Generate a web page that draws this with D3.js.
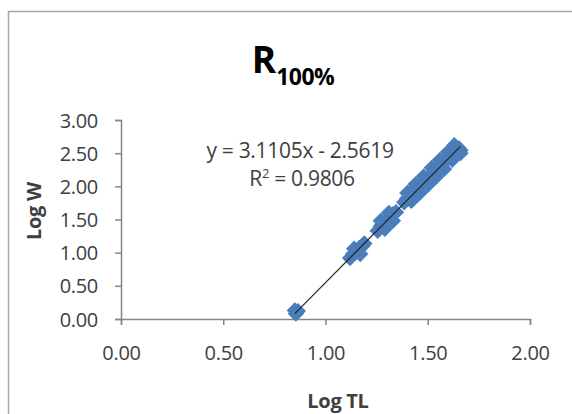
<!DOCTYPE html>
<html>
<head>
<meta charset="utf-8">
<script src="https://cdn.jsdelivr.net/npm/d3@7"></script>
<style>
  html, body { margin: 0; padding: 0; background: #fff; }
  svg { display: block; font-family: "Open Sans", "Noto Sans", sans-serif; }
</style>
</head>
<body>
<svg id="chart" width="572" height="414"></svg>
<script>
// Log total length vs log weight, R 100% group
const logTL = [0.855, 0.865, 0.85,
  1.12, 1.135, 1.15, 1.165, 1.18, 1.19, 1.14, 1.17,
  1.255, 1.27, 1.285, 1.30, 1.315, 1.33, 1.345, 1.27, 1.31, 1.29, 1.33,
  1.385, 1.40, 1.415, 1.43, 1.445, 1.46, 1.475, 1.49, 1.505, 1.52,
  1.535, 1.55, 1.565, 1.58, 1.595, 1.61, 1.625, 1.64, 1.653,
  1.44, 1.52, 1.60, 1.66, 1.62,
  1.40, 1.44, 1.48, 1.52, 1.56, 1.60, 1.63,
  1.42, 1.46, 1.50, 1.54, 1.58, 1.62, 1.66];
const logW = [0.08, 0.12, 0.13,
  0.92, 0.98, 1.01, 1.07, 1.10, 1.14, 1.06, 0.98,
  1.33, 1.40, 1.43, 1.49, 1.52, 1.58, 1.61, 1.48, 1.60, 1.36, 1.48,
  1.76, 1.82, 1.83, 1.91, 1.92, 2.00, 2.02, 2.09, 2.11, 2.18,
  2.20, 2.27, 2.30, 2.36, 2.41, 2.44, 2.50, 2.55, 2.57,
  1.99, 2.12, 2.44, 2.54, 2.55,
  1.90, 2.03, 2.15, 2.28, 2.40, 2.52, 2.62,
  1.78, 1.90, 2.02, 2.14, 2.26, 2.40, 2.50];
const xTicks = [0, 0.5, 1.0, 1.5, 2.0];
const yTicks = [0, 0.5, 1.0, 1.5, 2.0, 2.5, 3.0];
// Linear trendline coefficients and fit quality
const slope = 3.1105;
const intercept = -2.5619;
const rSquared = 0.9806;

const svg = d3.select("#chart");

// chart frame
svg.append("rect")
  .attr("x", 8.5).attr("y", 11.5)
  .attr("width", 620).attr("height", 500)
  .attr("fill", "none").attr("stroke", "#a6a6a6").attr("stroke-width", 1.5);

const x = d3.scaleLinear().domain([0, 2]).range([121, 530]);
const y = d3.scaleLinear().domain([0, 3]).range([319, 120]);

const axisColor = "#868686";
const labelColor = "#404040";

const xAxis = svg.append("g")
  .attr("transform", `translate(0,${y(0)})`)
  .call(d3.axisBottom(x).tickValues(xTicks).tickFormat(d3.format(".2f")).tickSizeOuter(0).tickSize(6).tickPadding(21));
const yAxis = svg.append("g")
  .attr("transform", `translate(${x(0)},0)`)
  .call(d3.axisLeft(y).tickValues(yTicks).tickFormat(d3.format(".2f")).tickSizeOuter(0).tickSize(6).tickPadding(17));

[xAxis, yAxis].forEach(g => {
  g.selectAll("path, line").attr("stroke", axisColor).attr("stroke-width", 1.5);
  g.selectAll("text").attr("fill", labelColor).style("font-size", "20px")
    .style("font-family", "'Open Sans', sans-serif").attr("letter-spacing", "-0.3");
});
yAxis.selectAll("text").attr("dy", "0.35em");

// clip region for the plot area
svg.append("clipPath").attr("id", "plot-clip")
  .append("rect").attr("x", x(0)).attr("y", y(3)).attr("width", x(2) - x(0)).attr("height", y(0) - y(3));

// diamond markers
const diamond = d3.symbol().type(d3.symbolDiamond2).size(170);
svg.append("g")
  .selectAll("path")
  .data(logTL.map((v, i) => [v, logW[i]]))
  .join("path")
  .attr("d", diamond)
  .attr("transform", d => `translate(${x(d[0])},${y(d[1])})`)
  .attr("fill", "#4a7ebb");

// trendline over the range of the data
const xMin = d3.min(logTL), xMax = d3.max(logTL);
svg.append("g").attr("clip-path", "url(#plot-clip)")
  .append("line")
  .attr("x1", x(xMin)).attr("y1", y(slope * xMin + intercept))
  .attr("x2", x(xMax)).attr("y2", y(slope * xMax + intercept))
  .attr("stroke", "#222").attr("stroke-width", 1.2);

// equation label
svg.append("text")
  .attr("x", 300).attr("y", 158).attr("text-anchor", "middle")
  .attr("fill", labelColor).style("font-size", "21px").attr("letter-spacing", "-0.3")
  .text(`y = ${slope}x - ${Math.abs(intercept)}`);
const r2 = svg.append("text")
  .attr("x", 302).attr("y", 186).attr("text-anchor", "middle")
  .attr("fill", labelColor).style("font-size", "21px").attr("letter-spacing", "-0.3");
r2.append("tspan").text("R");
r2.append("tspan").attr("dy", "-8").style("font-size", "13px").text("2");
r2.append("tspan").attr("dy", "8").text(` = ${rSquared}`);

// title
const title = svg.append("text")
  .attr("x", 293).attr("y", 73).attr("text-anchor", "middle")
  .attr("fill", "#000").style("font-weight", "bold").style("font-size", "37px");
title.append("tspan").text("R");
title.append("tspan").attr("dy", "12").style("font-size", "23px").attr("letter-spacing", "-0.5").text("100%");

// axis titles
svg.append("text")
  .attr("x", 338).attr("y", 408).attr("text-anchor", "middle")
  .attr("fill", labelColor).style("font-weight", "bold").style("font-size", "20px")
  .attr("letter-spacing", "-0.3")
  .text("Log TL");
svg.append("text")
  .attr("transform", "translate(41,211) rotate(-90)")
  .attr("text-anchor", "middle")
  .attr("fill", labelColor).style("font-weight", "bold").style("font-size", "20px")
  .attr("letter-spacing", "-0.3")
  .text("Log W");
</script>
</body>
</html>
